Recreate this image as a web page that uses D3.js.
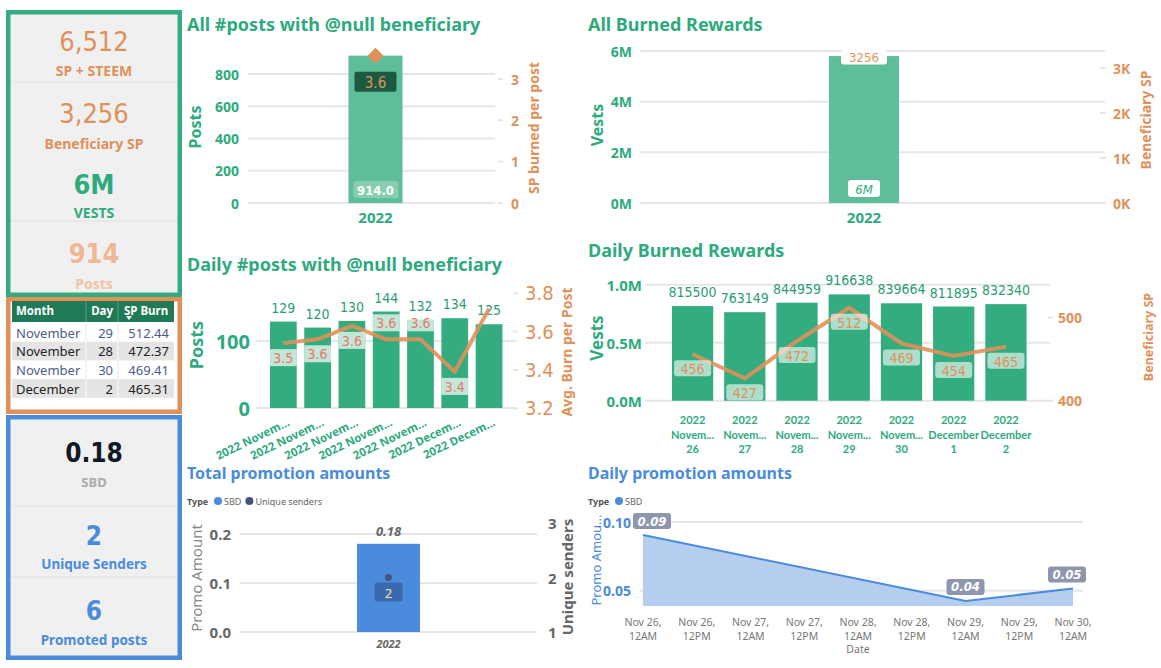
<!DOCTYPE html>
<html><head><meta charset="utf-8">
<script src="https://cdn.jsdelivr.net/npm/d3@7"></script>
<style>body{margin:0;background:#fff}svg{display:block}text{font-family:"Noto Sans",sans-serif}</style>
</head><body><svg id="c" width="1161" height="668"></svg>
<script>
// ---------------- DATA ----------------
const kpiSpSteem = 6512;
const kpiBeneficiarySP = 3256;
const kpiVests = 5800000;
const kpiPosts = 914;
const kpiPromoSBD = 0.18;
const kpiUniqueSenders = 2;
const kpiPromotedPosts = 6;

const tableHeaders = ["Month", "Day", "SP Burn"];
const tableMonth = ["November", "November", "November", "December"];
const tableDay = [29, 28, 30, 2];
const tableSpBurn = [512.44, 472.37, 469.41, 465.31];

const yearCategories = ["2022"];
const totalPosts = [914];
const totalSpPerPost = [3.56];
const totalVests = [5800000];
const totalBeneficiarySP = [3256];

const dailyCategories = ["2022 November 26", "2022 November 27", "2022 November 28", "2022 November 29", "2022 November 30", "2022 December 1", "2022 December 2"];
const dailyPosts = [129, 120, 130, 144, 132, 134, 125];
const dailyBurnPerPost = [3.54, 3.56, 3.63, 3.56, 3.56, 3.39, 3.72];
const dailyVests = [815500, 763149, 844959, 916638, 839664, 811895, 832340];
const dailyBeneficiarySP = [456, 427, 472, 512, 469, 454, 465];

const postsTicksL = [0, 200, 400, 600, 800];
const postsTicksR = [0, 1, 2, 3];
const vestsTicksL = [0, 2e6, 4e6, 6e6];
const spTicksR = [0, 1000, 2000, 3000];
const dailyPostsTicksL = [0, 100];
const dailyBurnTicksR = [3.2, 3.4, 3.6, 3.8];
const dailyVestsTicksL = [0, 5e5, 1e6];
const dailySpTicksR = [400, 500];

const promoTypes = ["SBD", "Unique senders"];
const promoSBD = [0.18];
const promoSenders = [2];
const promoTicksL = [0, 0.1, 0.2];
const promoTicksR = [1, 2, 3];

const dailyPromoDates = ["2022-11-26T00:00", "2022-11-29T00:00", "2022-11-30T00:00"];
const dailyPromoSBD = [0.0905, 0.0425, 0.0515];
const dailyPromoTicksY = [0.05, 0.10];

// ---------------- STYLE ----------------
const GREEN = "#2EAA7E", BAR = "#33AD7F", BARL = "#5DBE99", ORANGE = "#E0915A",
      BLUE = "#4A8BDB", GRAY = "#666666", GRID = "#e6e6e6";
const DIN = "'DejaVu Sans Condensed','Noto Sans',sans-serif";
const svg = d3.select("#c");

function txt(g, x, y, s, o = {}) {
  const t = g.append("text").attr("x", x).attr("y", y).text(s)
    .attr("font-size", o.size || 12).attr("fill", o.fill || "#333")
    .attr("font-weight", o.weight || "normal")
    .attr("text-anchor", o.anchor || "start")
    .attr("dominant-baseline", "central");
  if (o.family) t.style("font-family", o.family);
  if (o.style) t.attr("font-style", o.style);
  if (o.rotate) t.attr("transform", `rotate(${o.rotate},${x},${y})`);
  return t;
}
function grid(g, scale, ticks, x0, x1) {
  g.selectAll(null).data(ticks).join("line")
    .attr("x1", x0).attr("x2", x1).attr("y1", d => scale(d)).attr("y2", d => scale(d))
    .attr("stroke", GRID).attr("stroke-width", 2);
}
function labels(g, scale, ticks, x, fmt, o) {
  ticks.forEach(d => txt(g, x, scale(d), fmt(d), o));
}
function stubs(g, scale, ticks, x0, x1) {
  g.selectAll(null).data(ticks).join("line")
    .attr("x1", x0).attr("x2", x1).attr("y1", d => scale(d)).attr("y2", d => scale(d))
    .attr("stroke", GRID).attr("stroke-width", 2);
}

// ---------------- LEFT CARDS ----------------
const cards = svg.append("g");
cards.append("rect").attr("x", 8.25).attr("y", 12.25).attr("width", 171.5).attr("height", 282.5)
  .attr("fill", "#f0f0f0").attr("stroke", "#33AD7F").attr("stroke-width", 4.5);
[82, 221].forEach(y => cards.append("line").attr("x1", 11).attr("x2", 177).attr("y1", y).attr("y2", y).attr("stroke", "#e2e2e2"));
txt(cards, 94, 41, d3.format(",")(kpiSpSteem), {size: 27, fill: ORANGE, anchor: "middle", family: DIN});
txt(cards, 94, 70, "SP + STEEM", {size: 14, fill: ORANGE, anchor: "middle", weight: "bold"});
txt(cards, 94, 113, d3.format(",")(kpiBeneficiarySP), {size: 27, fill: ORANGE, anchor: "middle", family: DIN});
txt(cards, 94, 143, "Beneficiary SP", {size: 14, fill: ORANGE, anchor: "middle", weight: "bold"});
txt(cards, 94, 184, d3.format(".0s")(kpiVests).replace("G", "B"), {size: 27, fill: GREEN, anchor: "middle", weight: "bold", family: DIN});
txt(cards, 94, 212, "VESTS", {size: 14, fill: GREEN, anchor: "middle", weight: "bold"});
txt(cards, 94, 253, String(kpiPosts), {size: 27, fill: "#EFB793", anchor: "middle", weight: "bold", family: DIN});
txt(cards, 94, 283, "Posts", {size: 14, fill: "#F0C4A6", anchor: "middle", weight: "bold"});

// table card
const tb = svg.append("g");
tb.append("rect").attr("x", 8.25).attr("y", 299.25).attr("width", 171.5).attr("height", 112.5)
  .attr("fill", "#fff").attr("stroke", ORANGE).attr("stroke-width", 4.5);
tb.append("rect").attr("x", 12).attr("y", 301).attr("width", 162).attr("height", 21).attr("fill", "#217A57");
txt(tb, 16, 310, tableHeaders[0], {size: 11.5, fill: "#fff", weight: "bold"});
txt(tb, 113, 310, tableHeaders[1], {size: 11.5, fill: "#fff", weight: "bold", anchor: "end"});
txt(tb, 124, 310, tableHeaders[2], {size: 11.5, fill: "#fff", weight: "bold"});
tb.append("path").attr("d", "M126,316 L132,316 L129,320 Z").attr("fill", "#fff");
[86, 118].forEach(x => tb.append("line").attr("x1", x).attr("x2", x).attr("y1", 301).attr("y2", 322).attr("stroke", "#5a9c80"));
tableMonth.forEach((m, i) => {
  const y0 = 323 + i * 18.7;
  const alt = i % 2 === 1;
  if (alt) tb.append("rect").attr("x", 12).attr("y", y0).attr("width", 162).attr("height", 18.7).attr("fill", "#e4e4e4");
  [86, 118].forEach(x => tb.append("line").attr("x1", x).attr("x2", x).attr("y1", y0).attr("y2", y0 + 18.7).attr("stroke", alt ? "#fff" : "#e8e8e8"));
  const col = alt ? "#222" : "#4A5C8C";
  txt(tb, 16, y0 + 9.5, m, {size: 13, fill: col});
  txt(tb, 113, y0 + 9.5, String(tableDay[i]), {size: 13, fill: col, anchor: "end"});
  txt(tb, 169, y0 + 9.5, d3.format(".2f")(tableSpBurn[i]), {size: 13, fill: col, anchor: "end"});
});

// promo cards
const pc = svg.append("g");
pc.append("rect").attr("x", 8.25).attr("y", 417.25).attr("width", 171.5).attr("height", 240.5)
  .attr("fill", "#f0f0f0").attr("stroke", BLUE).attr("stroke-width", 4.5);
[506, 577].forEach(y => pc.append("line").attr("x1", 11).attr("x2", 177).attr("y1", y).attr("y2", y).attr("stroke", "#e2e2e2"));
txt(pc, 94, 453, d3.format(".2f")(kpiPromoSBD), {size: 26, fill: "#111827", anchor: "middle", weight: "bold", family: DIN});
txt(pc, 94, 482, "SBD", {size: 13, fill: "#aaa", anchor: "middle", weight: "bold"});
txt(pc, 94, 536, String(kpiUniqueSenders), {size: 26, fill: BLUE, anchor: "middle", weight: "bold", family: DIN});
txt(pc, 94, 564, "Unique Senders", {size: 13.5, fill: BLUE, anchor: "middle", weight: "bold"});
txt(pc, 94, 611, String(kpiPromotedPosts), {size: 26, fill: BLUE, anchor: "middle", weight: "bold", family: DIN});
txt(pc, 94, 640, "Promoted posts", {size: 13.5, fill: BLUE, anchor: "middle", weight: "bold"});

// ---------------- CHART 1 ----------------
{
  const g = svg.append("g");
  txt(g, 187, 24, "All #posts with @null beneficiary", {size: 18, fill: GREEN, weight: "bold"});
  const x = d3.scaleBand().domain(yearCategories).range([248, 503]).padding(0.65);
  const yL = d3.scaleLinear().domain([0, 800]).range([203, 74]);
  const yR = d3.scaleLinear().domain([0, 3]).range([203, 79]);
  grid(g, yL, postsTicksL, 248, 495);
  stubs(g, yR, postsTicksR, 498, 503);
  labels(g, yL, postsTicksL, 239, d3.format("d"), {size: 14, fill: GREEN, weight: "bold", anchor: "end"});
  labels(g, yR, postsTicksR, 511, d3.format("d"), {size: 14, fill: ORANGE, weight: "bold"});
  txt(g, 195, 127, "Posts", {size: 16, fill: GREEN, weight: "bold", anchor: "middle", rotate: -90});
  txt(g, 533, 128, "SP burned per post", {size: 14, fill: ORANGE, weight: "bold", anchor: "middle", rotate: -90});
  g.selectAll(null).data(yearCategories).join("rect")
    .attr("x", d => x(d)).attr("width", x.bandwidth())
    .attr("y", (d, i) => yL(totalPosts[i])).attr("height", (d, i) => yL(0) - yL(totalPosts[i])).attr("fill", BARL);
  yearCategories.forEach((d, i) => {
    const cx = x(d) + x.bandwidth() / 2, cy = yR(totalSpPerPost[i]);
    g.append("path").attr("d", `M${cx},${cy - 8}L${cx + 8},${cy}L${cx},${cy + 8}L${cx - 8},${cy}Z`).attr("fill", ORANGE);
    g.append("rect").attr("x", cx - 21).attr("y", cy + 16).attr("width", 42).attr("height", 20).attr("rx", 2).attr("fill", "#1B5A40");
    txt(g, cx, cy + 27, d3.format(".1f")(totalSpPerPost[i]), {size: 15, fill: ORANGE, anchor: "middle", family: DIN});
    g.append("rect").attr("x", cx - 22).attr("y", yL(0) - 22).attr("width", 45).attr("height", 17).attr("rx", 2).attr("fill", "rgba(255,255,255,0.25)");
    txt(g, cx, yL(0) - 13, d3.format(".1f")(totalPosts[i]), {size: 13, fill: "#fff", anchor: "middle", weight: "bold", family: DIN});
    txt(g, cx, 217, d, {size: 15, fill: GREEN, anchor: "middle", weight: "bold"});
  });
}

// ---------------- CHART 2 ----------------
{
  const g = svg.append("g");
  txt(g, 588, 24, "All Burned Rewards", {size: 18, fill: GREEN, weight: "bold"});
  const x = d3.scaleBand().domain(yearCategories).range([640, 1088]).padding(0.73);
  const yL = d3.scaleLinear().domain([0, 6e6]).range([203, 51]);
  const yR = d3.scaleLinear().domain([0, 3000]).range([203, 68]);
  grid(g, yL, vestsTicksL, 640, 1105);
  stubs(g, yR, spTicksR, 1100, 1106);
  labels(g, yL, vestsTicksL, 632, d => (d / 1e6) + "M", {size: 14, fill: GREEN, weight: "bold", anchor: "end"});
  labels(g, yR, spTicksR, 1113, d => (d / 1000) + "K", {size: 14, fill: ORANGE, weight: "bold"});
  txt(g, 597, 125, "Vests", {size: 16, fill: GREEN, weight: "bold", anchor: "middle", rotate: -90});
  txt(g, 1145, 120, "Beneficiary SP", {size: 14, fill: ORANGE, weight: "bold", anchor: "middle", rotate: -90});
  g.selectAll(null).data(yearCategories).join("rect")
    .attr("x", d => x(d)).attr("width", x.bandwidth())
    .attr("y", (d, i) => yL(totalVests[i])).attr("height", (d, i) => yL(0) - yL(totalVests[i])).attr("fill", BARL);
  yearCategories.forEach((d, i) => {
    const cx = x(d) + x.bandwidth() / 2, cy = yR(totalBeneficiarySP[i]);
    g.append("rect").attr("x", cx - 23).attr("y", cy - 7).attr("width", 46).attr("height", 15).attr("rx", 3).attr("fill", "#fff");
    txt(g, cx, cy + 1, String(totalBeneficiarySP[i]), {size: 13, fill: ORANGE, anchor: "middle", family: DIN});
    g.append("rect").attr("x", cx - 16).attr("y", yL(0) - 23).attr("width", 32).attr("height", 17).attr("rx", 3).attr("fill", "#fff");
    txt(g, cx, yL(0) - 14, d3.format(".0s")(totalVests[i]), {size: 13, fill: BAR, anchor: "middle", style: "italic", family: DIN});
    txt(g, cx, 217, d, {size: 15, fill: GREEN, anchor: "middle", weight: "bold"});
  });
}

// ---------------- CHART 3 ----------------
{
  const g = svg.append("g");
  txt(g, 187, 264, "Daily #posts with @null beneficiary", {size: 18, fill: GREEN, weight: "bold"});
  const x = d3.scaleBand().domain(dailyCategories).range([266.2, 506.2]).paddingInner(0.22).paddingOuter(0.11);
  const yL = d3.scaleLinear().domain([0, 100]).range([408, 341]);
  const yR = d3.scaleLinear().domain([3.2, 3.8]).range([408.3, 293.3]);
  grid(g, yL, dailyPostsTicksL, 256, 516);
  stubs(g, yR, dailyBurnTicksR, 513, 518);
  labels(g, yL, dailyPostsTicksL, 250, d3.format("d"), {size: 20, fill: GREEN, weight: "bold", anchor: "end"});
  labels(g, yR, dailyBurnTicksR, 525, d3.format(".1f"), {size: 20, fill: ORANGE, family: DIN});
  txt(g, 196, 345, "Posts", {size: 18, fill: GREEN, weight: "bold", anchor: "middle", rotate: -90});
  txt(g, 566, 352, "Avg. Burn per Post", {size: 14, fill: ORANGE, weight: "bold", anchor: "middle", rotate: -90});
  g.selectAll(null).data(dailyCategories).join("rect")
    .attr("x", d => x(d)).attr("width", x.bandwidth())
    .attr("y", (d, i) => yL(dailyPosts[i])).attr("height", (d, i) => yL(0) - yL(dailyPosts[i])).attr("fill", BAR);
  dailyCategories.forEach((d, i) => {
    const cx = x(d) + x.bandwidth() / 2;
    txt(g, cx, yL(dailyPosts[i]) - 14, String(dailyPosts[i]), {size: 14, fill: "#2A9D74", anchor: "middle", family: DIN});
    const lbl = d.slice(0, 10) + "...";
    txt(g, cx + 5, 421, lbl, {size: 11.5, fill: GREEN, weight: "bold", anchor: "end", rotate: -26});
  });
  const line = d3.line().x((d, i) => x(dailyCategories[i]) + x.bandwidth() / 2).y(d => yR(d));
  g.append("path").datum(dailyBurnPerPost).attr("d", line).attr("fill", "none")
    .attr("stroke", ORANGE).attr("stroke-width", 4).attr("stroke-linejoin", "round").attr("opacity", 0.9);
  const above = [false, false, false, true, true, false, null];
  dailyCategories.forEach((d, i) => {
    if (above[i] === null) return;
    const cx = x(d) + x.bandwidth() / 2, cy = yR(dailyBurnPerPost[i]);
    const by = above[i] ? cy - 25 : cy + 6;
    g.append("rect").attr("x", x(d)).attr("y", by).attr("width", x.bandwidth()).attr("height", 17).attr("fill", "rgba(255,255,255,0.7)");
    txt(g, cx, by + 9, d3.format(".1f")(dailyBurnPerPost[i]), {size: 14, fill: "#E8776B", anchor: "middle", family: DIN});
  });
}

// ---------------- CHART 4 ----------------
{
  const g = svg.append("g");
  txt(g, 588, 250, "Daily Burned Rewards", {size: 18, fill: GREEN, weight: "bold"});
  const x = d3.scaleBand().domain(dailyCategories).range([666.2, 1032.3]).paddingInner(0.21).paddingOuter(0.11);
  const yL = d3.scaleLinear().domain([0, 1e6]).range([400.7, 284.7]);
  const yR = d3.scaleLinear().domain([400, 500]).range([400.7, 317.7]);
  grid(g, yL, dailyVestsTicksL, 645, 1050);
  stubs(g, yR, dailySpTicksR, 1048, 1053);
  labels(g, yL, dailyVestsTicksL, 642, d => d3.format(".1f")(d / 1e6) + "M", {size: 15, fill: GREEN, weight: "bold", anchor: "end"});
  labels(g, yR, dailySpTicksR, 1058, d3.format("d"), {size: 14, fill: ORANGE, weight: "bold"});
  txt(g, 596, 338, "Vests", {size: 17, fill: GREEN, weight: "bold", anchor: "middle", rotate: -90});
  txt(g, 1148, 337, "Beneficiary SP", {size: 12.5, fill: ORANGE, weight: "bold", anchor: "middle", rotate: -90});
  g.selectAll(null).data(dailyCategories).join("rect")
    .attr("x", d => x(d)).attr("width", x.bandwidth())
    .attr("y", (d, i) => yL(dailyVests[i])).attr("height", (d, i) => yL(0) - yL(dailyVests[i])).attr("fill", BAR);
  const xo = {size: 11, fill: GREEN, weight: "bold", anchor: "middle", family: "Lato,'Noto Sans',sans-serif"};
  // reference width: a full month name that fits the category slot
  const probe = txt(g, 0, -50, "December", xo);
  const maxW = probe.node().getComputedTextLength() + 0.5;
  probe.remove();
  dailyCategories.forEach((d, i) => {
    const cx = x(d) + x.bandwidth() / 2;
    txt(g, cx, yL(dailyVests[i]) - 14, String(dailyVests[i]), {size: 14, fill: "#2A9D74", anchor: "middle", family: DIN});
    const parts = d.split(" ");
    txt(g, cx, 419, parts[0], xo);
    const mt = txt(g, cx, 434, parts[1], xo);
    if (mt.node().getComputedTextLength() > maxW) mt.text(parts[1].slice(0, 5) + "...");
    txt(g, cx, 448, parts[2], xo);
  });
  const line = d3.line().x((d, i) => x(dailyCategories[i]) + x.bandwidth() / 2).y(d => yR(d));
  g.append("path").datum(dailyBeneficiarySP).attr("d", line).attr("fill", "none")
    .attr("stroke", ORANGE).attr("stroke-width", 4).attr("stroke-linejoin", "round").attr("opacity", 0.9);
  dailyCategories.forEach((d, i) => {
    const cx = x(d) + x.bandwidth() / 2, cy = yR(dailyBeneficiarySP[i]);
    g.append("rect").attr("x", cx - 18.5).attr("y", cy + 6).attr("width", 37).attr("height", 16).attr("rx", 3).attr("fill", "rgba(255,255,255,0.6)");
    txt(g, cx, cy + 15, String(dailyBeneficiarySP[i]), {size: 14, fill: ORANGE, anchor: "middle", family: DIN});
  });
}

// ---------------- CHART 5 ----------------
{
  const g = svg.append("g");
  txt(g, 187, 473, "Total promotion amounts", {size: 16, fill: BLUE, weight: "bold"});
  txt(g, 187, 501, "Type", {size: 9, fill: "#555", weight: "bold"});
  const legCol = [BLUE, "#44527F"];
  let lx = 214;
  promoTypes.forEach((t, i) => {
    g.append("circle").attr("cx", lx + 4).attr("cy", 501).attr("r", 4).attr("fill", legCol[i]);
    const tt = txt(g, lx + 10, 501, t, {size: 9, fill: "#666"});
    lx += 10 + tt.node().getComputedTextLength() + 4;
  });
  const x = d3.scaleBand().domain(yearCategories).range([240, 537]).padding(0.65);
  const yL = d3.scaleLinear().domain([0, 0.2]).range([632, 534]);
  const yR = d3.scaleLinear().domain([1, 3]).range([632, 523]);
  grid(g, yL, promoTicksL, 240, 537);
  labels(g, yL, promoTicksL, 231, d3.format(".1f"), {size: 15, fill: GRAY, weight: "bold", anchor: "end"});
  labels(g, yR, promoTicksR, 548, d3.format("d"), {size: 15, fill: GRAY, weight: "bold"});
  txt(g, 196, 578, "Promo Amount", {size: 15, fill: "#888", anchor: "middle", rotate: -90});
  txt(g, 567, 577, "Unique senders", {size: 15, fill: GRAY, weight: "bold", anchor: "middle", rotate: -90});
  g.selectAll(null).data(yearCategories).join("rect")
    .attr("x", d => x(d)).attr("width", x.bandwidth())
    .attr("y", (d, i) => yL(promoSBD[i])).attr("height", (d, i) => yL(0) - yL(promoSBD[i])).attr("fill", BLUE);
  yearCategories.forEach((d, i) => {
    const cx = x(d) + x.bandwidth() / 2;
    txt(g, cx, yL(promoSBD[i]) - 13, d3.format(".2f")(promoSBD[i]), {size: 13, fill: GRAY, weight: "bold", style: "italic", anchor: "middle"});
    const cy = yR(promoSenders[i]);
    g.append("circle").attr("cx", cx).attr("cy", cy).attr("r", 3.5).attr("fill", "#44527F");
    g.append("rect").attr("x", cx - 14).attr("y", cy + 5).attr("width", 28).attr("height", 19).attr("rx", 3).attr("fill", "#3A6AAE");
    txt(g, cx, cy + 15, String(promoSenders[i]), {size: 13, fill: "#F3E7A8", anchor: "middle"});
    txt(g, cx, 643, d, {size: 11, fill: GRAY, weight: "bold", style: "italic", anchor: "middle"});
  });
}

// ---------------- CHART 6 ----------------
{
  const g = svg.append("g");
  txt(g, 588, 473, "Daily promotion amounts", {size: 16, fill: BLUE, weight: "bold"});
  txt(g, 588, 501, "Type", {size: 9, fill: "#555", weight: "bold"});
  g.append("circle").attr("cx", 619).attr("cy", 501).attr("r", 4).attr("fill", BLUE);
  txt(g, 625, 501, "SBD", {size: 9, fill: "#666"});
  const parse = d3.timeParse("%Y-%m-%dT%H:%M");
  const dates = dailyPromoDates.map(parse);
  const x = d3.scaleTime().domain([parse("2022-11-26T00:00"), parse("2022-11-30T00:00")]).range([643, 1073]);
  const y = d3.scaleLinear().domain([0.0388, 0.10]).range([606, 522]);
  const plotL = 633, plotR = 1086;
  grid(g, y, dailyPromoTicksY, 640, 1083);
  labels(g, y, dailyPromoTicksY, 631, d3.format(".2f"), {size: 14, fill: BLUE, weight: "bold", anchor: "end"});
  txt(g, 596, 560, "Promo Amou...", {size: 13, fill: BLUE, anchor: "middle", rotate: -90});
  const area = d3.area().x((d, i) => x(dates[i])).y0(y(y.domain()[0])).y1(d => y(d));
  g.append("path").datum(dailyPromoSBD).attr("d", area).attr("fill", "#B5CEF0");
  const line = d3.line().x((d, i) => x(dates[i])).y(d => y(d));
  g.append("path").datum(dailyPromoSBD).attr("d", line).attr("fill", "none").attr("stroke", BLUE).attr("stroke-width", 2);
  dailyPromoSBD.forEach((v, i) => {
    const w = 38;
    const cx = Math.min(Math.max(x(dates[i]), plotL + w / 2), plotR - w / 2), cy = y(v);
    g.append("rect").attr("x", cx - w / 2).attr("y", cy - 22).attr("width", w).attr("height", 16).attr("rx", 3).attr("fill", "#8E96AE");
    txt(g, cx, cy - 14, d3.format(".2f")(v), {size: 13, fill: "#fff", anchor: "middle", weight: "bold", style: "italic", family: DIN});
  });
  const ticks = x.ticks(d3.timeHour.every(12));
  const f1 = d3.timeFormat("%b %-d,"), f2 = d3.timeFormat("%-I%p");
  ticks.forEach(t => {
    txt(g, x(t), 622, f1(t), {size: 10.5, fill: "#777", anchor: "middle"});
    txt(g, x(t), 636, f2(t), {size: 10.5, fill: "#777", anchor: "middle"});
  });
  txt(g, 858, 649, "Date", {size: 10.5, fill: "#777", anchor: "middle"});
}
</script></body></html>
